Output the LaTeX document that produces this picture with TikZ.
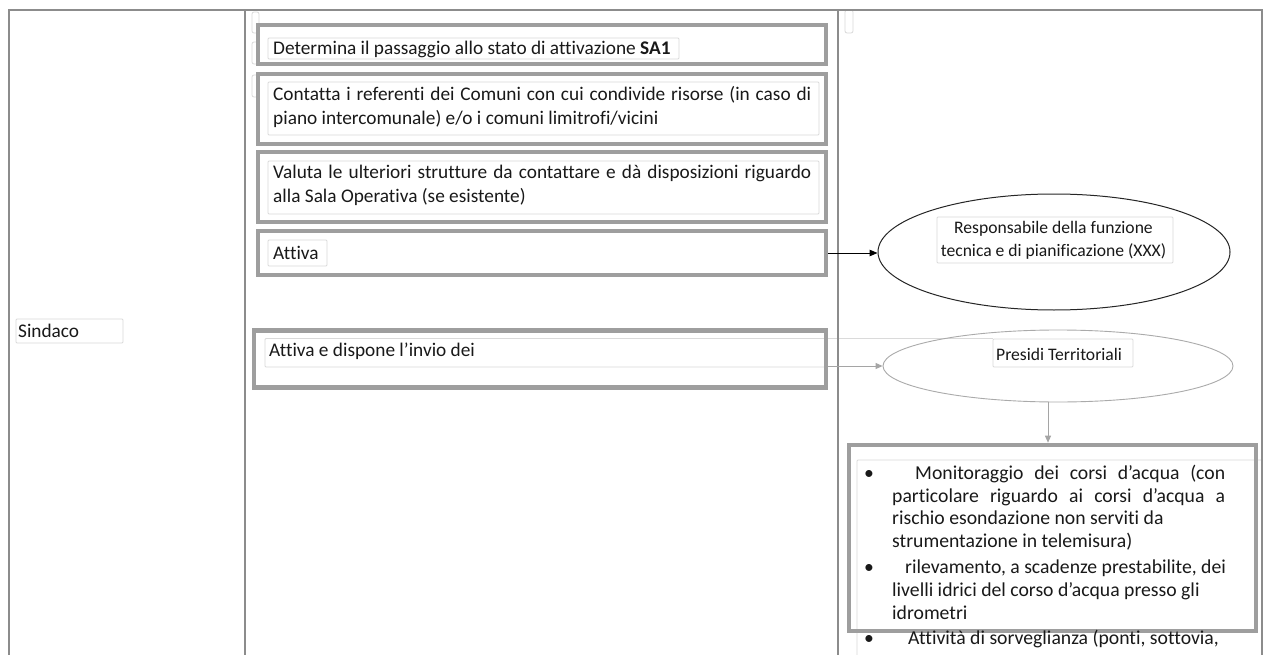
\documentclass[tikz,border=0pt]{standalone}
\usepackage{fontspec}
\setmainfont{Carlito}[Ligatures={NoCommon,NoContextual}]
\usetikzlibrary{shapes.geometric,arrows.meta}
\definecolor{tablegray}{RGB}{140,140,140}
\definecolor{thickgray}{RGB}{158,158,158}
\definecolor{innergray}{RGB}{218,218,218}
\definecolor{arrowgray}{RGB}{165,165,165}
\definecolor{ellgray}{RGB}{170,170,170}
\definecolor{textcol}{RGB}{25,25,25}
\begin{document}
\begin{tikzpicture}[x=1pt,y=-1pt,
  thickbox/.style={draw=thickgray,line width=4.6pt,inner sep=0pt},
  innerbox/.style={draw=innergray,line width=0.8pt,rounded corners=1pt},
  tinybox/.style={draw=innergray,line width=0.8pt,rounded corners=2pt},
  tableline/.style={draw=tablegray,line width=1.1pt},
  txt/.style={inner sep=0pt,text=textcol,font=\fontsize{19.3}{24}\selectfont},
  smalltxt/.style={inner sep=0pt,text=textcol,font=\fontsize{17.6}{23.3}\selectfont},
  listtxt/.style={inner sep=0pt,text=textcol,font=\fontsize{19.7}{22.8}\selectfont},
  blackarrow/.style={draw=black,line width=1pt,-{Triangle[length=8pt,width=6.5pt]}},
  grayarrow/.style={draw=arrowgray,line width=1pt,-{Triangle[length=7pt,width=6pt]}}]
\useasboundingbox (0,0) rectangle (1265,655);
\fill[white] (0,0) rectangle (1265,655);

% tiny empty boxes
\draw[tinybox] (252,12) rectangle (259,33);
\draw[tinybox] (252,42) rectangle (259,64);
\draw[tinybox] (252,75) rectangle (259,97);
\draw[tinybox] (845,10) rectangle (853,33);

% inner text boxes
\draw[innerbox] (268,38) rectangle (679,59);
\draw[innerbox] (268,82) rectangle (819,135);
\draw[innerbox] (268,161) rectangle (819,214);
\draw[innerbox] (268,240) rectangle (327,266);
\draw[innerbox] (265,338.5) rectangle (826,367);
\draw[innerbox] (826,338.5) -- (993,338.5);
\draw[innerbox] (16,319) rectangle (123,343);
\draw[innerbox] (937,217) rectangle (1173,263);
\draw[innerbox] (993,339) rectangle (1133,367);
\draw[innerbox] (857,460) rectangle (1262,680);

% thick boxes
\node[thickbox,minimum width=568pt,minimum height=39pt] (b1) at (542,44.5) {};
\node[thickbox,minimum width=568pt,minimum height=70pt] (b2) at (542,109) {};
\node[thickbox,minimum width=568pt,minimum height=70pt] (b3) at (542,187) {};
\node[thickbox,minimum width=568pt,minimum height=44pt] (b4) at (542,253) {};
\node[thickbox,minimum width=572pt,minimum height=57pt] (b5) at (540,359) {};
\node[thickbox,minimum width=407pt,minimum height=186pt] (bot) at (1052.5,538) {};

% ellipses
\node[ellipse,draw=black!85,line width=1pt,minimum width=352pt,minimum height=116pt,inner sep=0pt] (ell1) at (1054,252) {};
\node[ellipse,draw=ellgray,line width=0.9pt,minimum width=350pt,minimum height=72pt,inner sep=0pt] (pres) at (1058,366) {};

% table lines
\draw[tableline] (9,660) -- (9,10) -- (1262,10) -- (1262,660);
\draw[tableline] (245,10) -- (245,660);
\draw[tableline] (838,10) -- (838,660);

% texts
\node[txt,anchor=base west] (sind) at (18,337) {Sindaco};
\node[txt,anchor=base west] (t1) at (273,55) {Determina il passaggio allo stato di attivazione \textbf{SA1}};
\node[txt,anchor=north west,align=left] (t2) at (273,83.2)
  {\strut\makebox[538pt][s]{Contatta i referenti dei Comuni con cui condivide risorse (in caso di}\\
   \strut piano intercomunale) e/o i comuni limitrofi/vicini};
\node[txt,anchor=north west,align=left] (t3) at (273,161.2)
  {\strut\makebox[538pt][s]{Valuta le ulteriori strutture da contattare e dà disposizioni riguardo}\\
   \strut alla Sala Operativa (se esistente)};
\node[txt,anchor=base west] (t4) at (273,259) {Attiva};
\node[txt,anchor=base west] (t5) at (269,356) {Attiva e dispone l’invio dei};
\node[smalltxt,anchor=north,align=center] (t6) at (1053.5,217)
  {\strut Responsabile della funzione\\ \strut tecnica e di pianificazione (XXX)};
\node[smalltxt,anchor=base west] (t7) at (996,360) {Presidi Territoriali};
\node[listtxt,anchor=north west,align=left] (t8) at (864,463.04)
  {\strut\makebox[28pt][l]{•}\hspace{23pt}\makebox[310pt][s]{Monitoraggio dei corsi d’acqua (con}\\
   \strut\hspace*{28pt}\makebox[333pt][s]{particolare riguardo ai corsi d’acqua a}\\
   \strut\hspace*{28pt}rischio esondazione non serviti da\\
   \strut\hspace*{28pt}strumentazione in telemisura)\\[3pt]
   \strut\makebox[28pt][l]{•}\hspace{13pt}rilevamento, a scadenze prestabilite, dei\\
   \strut\hspace*{28pt}livelli idrici del corso d’acqua presso gli\\
   \strut\hspace*{28pt}idrometri\\[3pt]
   \strut\makebox[28pt][l]{•}\hspace{16pt}Attività di sorveglianza (ponti, sottovia,};

% connectors
\draw[blackarrow] (b4.east) -- (b4.east -| ell1.west);
\draw[grayarrow] (pres.west -| b5.east) -- (pres.west);
\draw[grayarrow] ([xshift=-10pt]pres.south) -- ([xshift=-10pt]pres.south |- bot.north);
\end{tikzpicture}
\end{document}
